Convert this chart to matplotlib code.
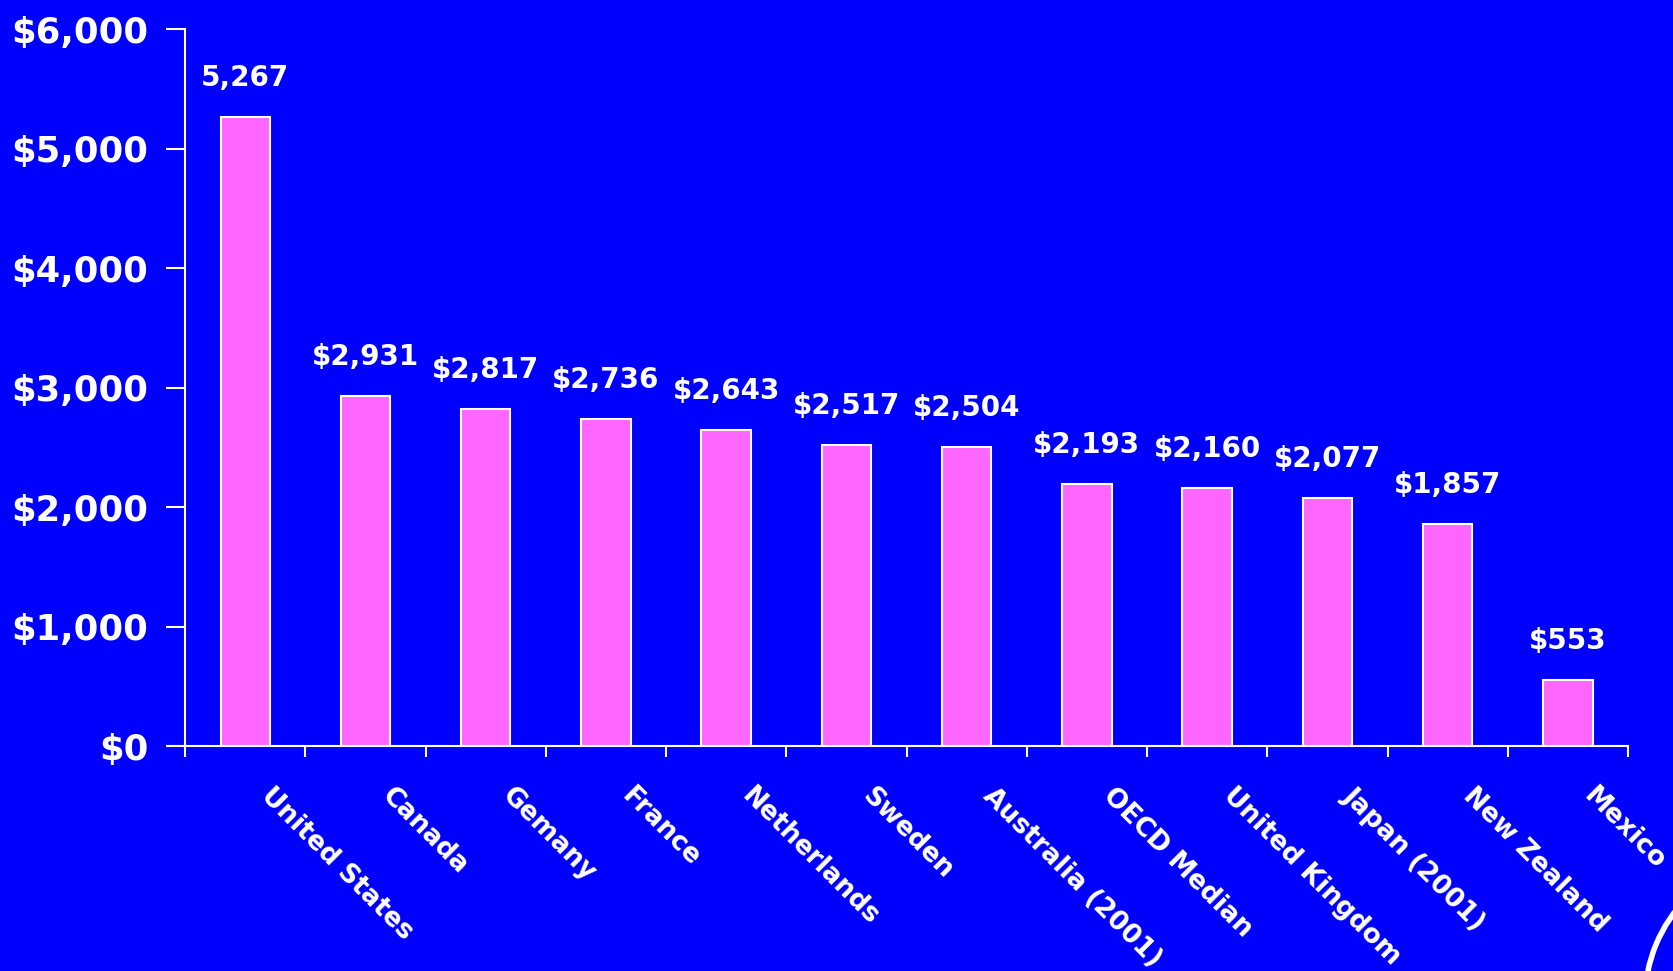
import matplotlib
matplotlib.use('Agg')
import matplotlib.pyplot as plt
from matplotlib.patches import Arc

countries = ['United States', 'Canada', 'Gemany', 'France', 'Netherlands', 'Sweden',
             'Australia (2001)', 'OECD Median', 'United Kingdom', 'Japan (2001)',
             'New Zealand', 'Mexico']
spending = [5267, 2931, 2817, 2736, 2643, 2517, 2504, 2193, 2160, 2077, 1857, 553]
value_labels = ['5,267', '$2,931', '$2,817', '$2,736', '$2,643', '$2,517', '$2,504',
                '$2,193', '$2,160', '$2,077', '$1,857', '$553']
y_ticks = [0, 1000, 2000, 3000, 4000, 5000, 6000]
y_tick_labels = ['$0', '$1,000', '$2,000', '$3,000', '$4,000', '$5,000', '$6,000']

blue = '#0000FF'
pink = '#FF66FF'

plt.rcParams['font.family'] = ['DejaVu Sans']
plt.rcParams['font.weight'] = 'bold'

fig = plt.figure(figsize=(16.73, 9.71), dpi=100, facecolor=blue)
ax = fig.add_axes([0.1106, 0.2317, 0.8625, 0.7384], facecolor=blue)

x = list(range(len(countries)))
ax.bar(x, spending, width=0.41, color=pink, edgecolor='white', linewidth=1.5)

for xi, v, lab in zip(x, spending, value_labels):
    ax.annotate(lab, (xi, v), xytext=(0, 39), textcoords='offset pixels',
                ha='center', va='center', color='white', fontsize=20, fontweight='bold')

# country names, slanted down to the right under each bar
for xi, name in zip(x, countries):
    ax.annotate(name, (xi, 0), xytext=(29, -37), textcoords='offset pixels',
                rotation=-45, rotation_mode='anchor', ha='left', va='top',
                color='white', fontsize=19, fontweight='bold', annotation_clip=False)

ax.set_xlim(-0.5, len(countries) - 0.5)
ax.set_ylim(0, 6000)

ax.set_yticks(y_ticks)
ax.set_yticklabels(y_tick_labels, fontsize=25.5, fontweight='bold', color='white')
ax.tick_params(axis='y', length=14, width=1.5, color='white', pad=12.5)

# ticks sit between the bars
ax.set_xticks([i - 0.5 for i in range(len(countries) + 1)])
ax.set_xticklabels([])
ax.tick_params(axis='x', length=8, width=1.5, color='white')

for side in ['top', 'right']:
    ax.spines[side].set_visible(False)
for side in ['left', 'bottom']:
    ax.spines[side].set_color('white')
    ax.spines[side].set_linewidth(1.5)

# white ring partly visible in the lower right corner
ring = Arc((1790 / 1673, 1 - 1000 / 971), 290 / 1673, 290 / 971, transform=fig.transFigure,
           color='white', linewidth=4, clip_on=False)
fig.add_artist(ring)

fig.savefig('out.png', dpi=100, facecolor=blue)
